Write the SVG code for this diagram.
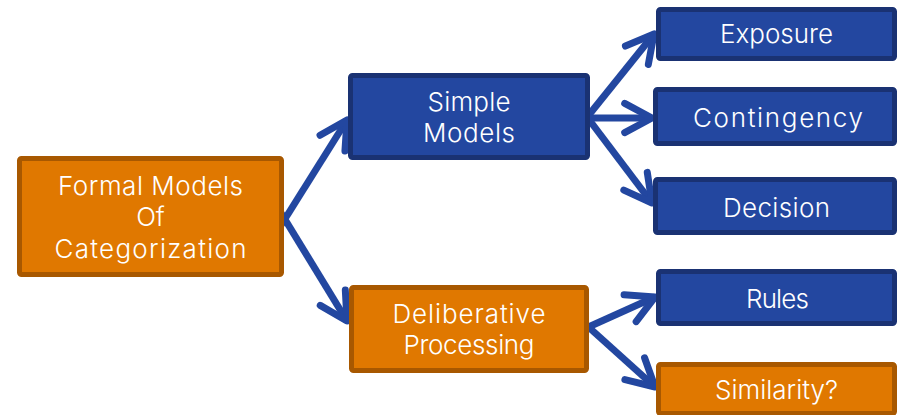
<svg xmlns="http://www.w3.org/2000/svg" width="903" height="415" viewBox="0 0 903 415">
  <style>
    .blue { fill: #2347A0; stroke: #1A3273; stroke-width: 5; }
    .orange { fill: #E07800; stroke: #A85800; stroke-width: 5; }
    .label { font-family: "Inter", "Lato", "Liberation Sans", sans-serif; font-weight: 300; font-size: 26px; fill: #FFFFFF; text-anchor: middle; }
    .link { fill: none; stroke: #2347A0; stroke-width: 7; marker-end: url(#chevron); }
  </style>
  <defs>
    <marker id="chevron" viewBox="-5 -3 6 6" refX="0" refY="0" markerWidth="6" markerHeight="6" markerUnits="strokeWidth" orient="auto" overflow="visible">
      <path d="M -3.9 -2.1 L 0 0 L -3.9 2.1" fill="none" stroke="#2347A0" stroke-width="1" stroke-linecap="round" stroke-linejoin="round"/>
    </marker>
  </defs>
  <rect width="903" height="415" fill="#FFFFFF"/>

  <!-- connectors, drawn under the boxes -->
  <g id="connectors">
    <line class="link" x1="278" y1="230" x2="347" y2="120"/>
    <line class="link" x1="278" y1="208" x2="347" y2="321"/>
    <line class="link" x1="584" y1="121" x2="654" y2="34"/>
    <line class="link" x1="584" y1="118" x2="652" y2="118"/>
    <line class="link" x1="584" y1="113" x2="652" y2="203"/>
    <line class="link" x1="584" y1="329" x2="655" y2="297"/>
    <line class="link" x1="584" y1="323" x2="655" y2="387"/>
  </g>

  <g id="formal-models">
    <rect class="orange" x="19.5" y="158.5" width="262" height="116" rx="2"/>
    <text class="label" x="150.5" y="195" textLength="185">Formal Models</text>
    <text class="label" x="150.5" y="226">Of</text>
    <text class="label" x="150.5" y="258" textLength="192">Categorization</text>
  </g>

  <g id="simple-models">
    <rect class="blue" x="350.5" y="75.5" width="237" height="82" rx="2"/>
    <text class="label" x="469" y="111" textLength="83">Simple</text>
    <text class="label" x="469" y="142" textLength="92">Models</text>
  </g>

  <g id="deliberative-processing">
    <rect class="orange" x="351.5" y="287.5" width="235" height="83" rx="2"/>
    <text class="label" x="469" y="323" textLength="153">Deliberative</text>
    <text class="label" x="469" y="354" textLength="131">Processing</text>
  </g>

  <g id="exposure">
    <rect class="blue" x="658.5" y="9.5" width="236" height="49" rx="2"/>
    <text class="label" x="776.5" y="43" textLength="113">Exposure</text>
  </g>

  <g id="contingency">
    <rect class="blue" x="655.5" y="89.5" width="239" height="54" rx="2"/>
    <text class="label" x="778" y="127" textLength="170">Contingency</text>
  </g>

  <g id="decision">
    <rect class="blue" x="655.5" y="179.5" width="239" height="53" rx="2"/>
    <text class="label" x="776.5" y="217" textLength="107">Decision</text>
  </g>

  <g id="rules">
    <rect class="blue" x="658.5" y="271.5" width="236" height="52" rx="2"/>
    <text class="label" x="777.5" y="308" textLength="63">Rules</text>
  </g>

  <g id="similarity">
    <rect class="orange" x="658.5" y="364.5" width="236" height="49" rx="2"/>
    <text class="label" x="776.5" y="399" textLength="123">Similarity?</text>
  </g>
</svg>
